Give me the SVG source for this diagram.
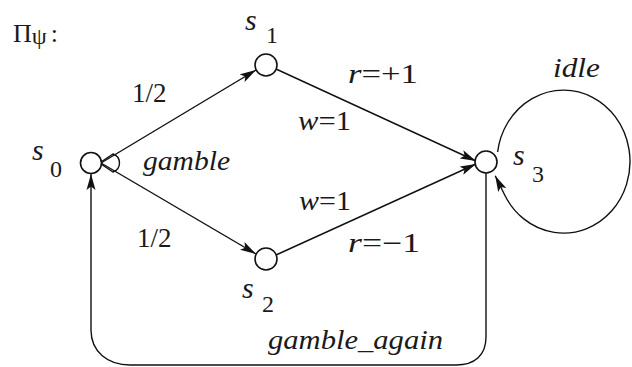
<svg xmlns="http://www.w3.org/2000/svg" width="632" height="367" viewBox="0 0 632 367" font-family="Liberation Serif, serif">
<style>
text{fill:#1a1a1a}
.it{font-style:italic}
.lbl{font-size:27px}
.sub{font-size:24px}
.st{font-size:30px;font-style:italic}
.node{fill:#fff;stroke:#111;stroke-width:1.6}
.edge{fill:none;stroke:#111;stroke-width:1.4}
</style>
<defs>
<marker id="arr" viewBox="0 0 16 10" refX="16" refY="5" markerWidth="16" markerHeight="10" markerUnits="userSpaceOnUse" orient="auto">
<path d="M0,0.5 L16,5 L0,9.5 L3.5,5 Z" fill="#111"/>
</marker>
</defs>
<rect width="632" height="367" fill="#fff"/>
<text x="13" y="42" font-size="26" font-family="Liberation Serif">Π<tspan font-size="24" dy="2">ψ</tspan><tspan dy="-2" dx="4">:</tspan></text>
<g id="connectors" font-family="Liberation Serif">
<path class="edge" d="M101,163 L256,70" marker-end="url(#arr)"/>
<path class="edge" d="M101,163 L256,254" marker-end="url(#arr)"/>
<path class="edge" d="M276,69 L476,161" marker-end="url(#arr)"/>
<path class="edge" d="M276,255 L476,164" marker-end="url(#arr)"/>
<path id="gamble" class="edge" d="M101,162 L113,154 A9.5,9.5 0 0 1 113,172 L101,164"/>
<path id="idle" class="edge" d="M497.6,152 A66.5,71.5 0 1 1 504.7,195 L495.2,175.7" marker-end="url(#arr)"/>
<path id="gamble_again" class="edge" d="M486,173 V337 C486,355 475,365 456,365 H130 C108,365 91,352 91,330 V174" marker-end="url(#arr)"/>
<text class="lbl" x="132" y="102">1/2</text>
<text class="lbl" x="137" y="247">1/2</text>
<text class="lbl" x="348" y="83" textLength="70" lengthAdjust="spacingAndGlyphs"><tspan class="it">r</tspan>=+1</text>
<text class="lbl" x="298" y="130" textLength="53" lengthAdjust="spacingAndGlyphs"><tspan class="it">w</tspan>=1</text>
<text class="lbl" x="299" y="210" textLength="52" lengthAdjust="spacingAndGlyphs"><tspan class="it">w</tspan>=1</text>
<text class="lbl" x="348" y="252" textLength="72" lengthAdjust="spacingAndGlyphs"><tspan class="it">r</tspan>=−1</text>
<text class="lbl it" x="143" y="170" textLength="87" lengthAdjust="spacingAndGlyphs">gamble</text>
<text class="lbl it" x="268" y="349" textLength="175" lengthAdjust="spacingAndGlyphs">gamble_again</text>
<text class="lbl it" x="553" y="77" textLength="47" lengthAdjust="spacingAndGlyphs">idle</text>
</g>
<g id="s0" font-family="Liberation Serif">
<circle class="node" cx="91" cy="163" r="10.5"/>
<text class="st" x="32" y="160">s</text><text class="sub" x="50" y="177">0</text>
</g>
<g id="s1" font-family="Liberation Serif">
<circle class="node" cx="266" cy="65" r="11"/>
<text class="st" x="245" y="30">s</text><text class="sub" x="266" y="43">1</text>
</g>
<g id="s2" font-family="Liberation Serif">
<circle class="node" cx="266" cy="259" r="11"/>
<text class="st" x="242" y="298">s</text><text class="sub" x="262" y="312">2</text>
</g>
<g id="s3" font-family="Liberation Serif">
<circle class="node" cx="486" cy="162" r="11"/>
<text class="st" x="513" y="165">s</text><text class="sub" x="532" y="182">3</text>
</g>
</svg>
